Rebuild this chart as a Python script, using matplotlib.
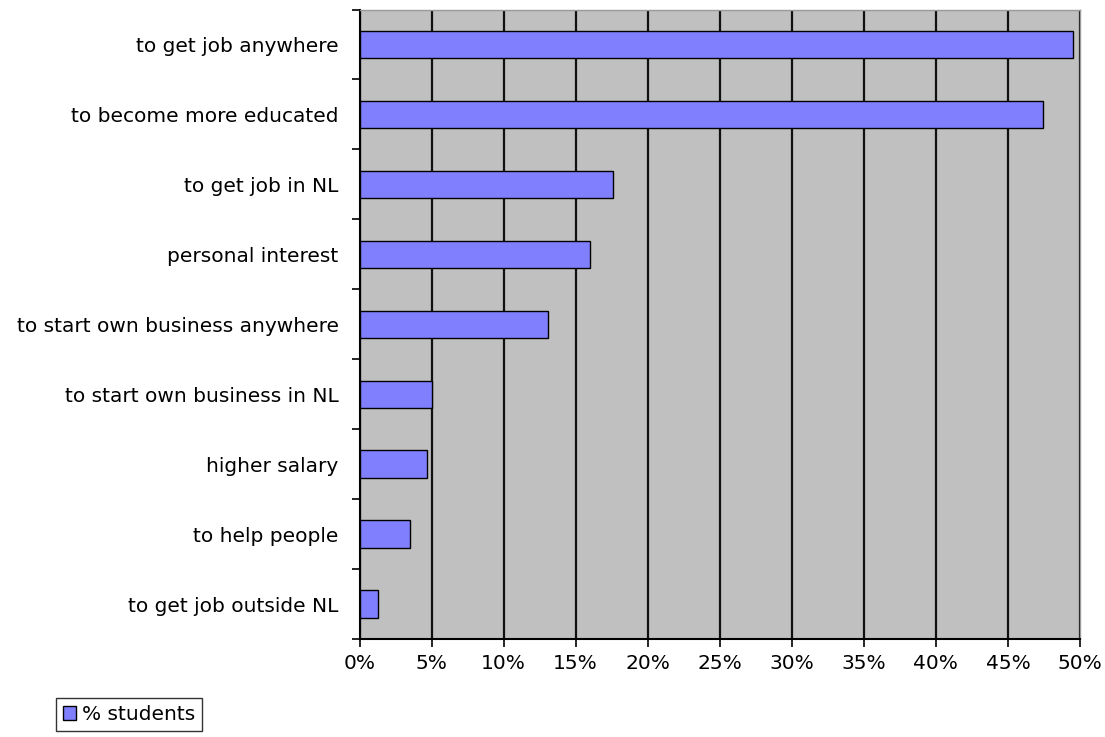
import matplotlib
matplotlib.use("Agg")
import matplotlib.pyplot as plt
from matplotlib.ticker import FixedLocator

categories = ["to get job anywhere", "to become more educated", "to get job in NL",
              "personal interest", "to start own business anywhere",
              "to start own business in NL", "higher salary", "to help people",
              "to get job outside NL"]
values = [49.5, 47.4, 17.6, 16.0, 13.1, 5.0, 4.7, 3.5, 1.3]
xticks = [0, 5, 10, 15, 20, 25, 30, 35, 40, 45, 50]
xticklabels = [f"{t}%" for t in xticks]
series_name = "% students"

plt.rcParams['font.family'] = ['DejaVu Sans']
FS = 14.5

fig = plt.figure(figsize=(11.05, 7.37), dpi=100)
ax = fig.add_axes([359.5/1105, 1-639/737, (1080-359.5)/1105, (639-9.5)/737])
ax.set_facecolor('#C0C0C0')

n = len(categories)
ypos = list(range(n))
bars = ax.barh(ypos, values, height=0.39, color='#8080FF', edgecolor='black',
               linewidth=1.0, zorder=3, label=series_name)
ax.set_ylim(n - 0.5, -0.5)
ax.set_xlim(0, 50)

ax.set_xticks(xticks)
ax.set_xticklabels(xticklabels, fontsize=FS)
ax.xaxis.grid(True, color='#111111', linewidth=1.6, zorder=1)
ax.set_axisbelow(True)

ax.set_yticks(ypos)
ax.set_yticklabels(categories, fontsize=FS)
ax.tick_params(axis='y', length=0, pad=15)
ax.yaxis.set_minor_locator(FixedLocator([i - 0.5 for i in range(n + 1)]))
ax.tick_params(axis='y', which='minor', length=6, width=1.2, color='black')
ax.tick_params(axis='x', length=6, width=1.2, color='black', pad=5)

for s in ['left', 'bottom']:
    ax.spines[s].set_color('black')
    ax.spines[s].set_linewidth(1.5)
for s in ['top', 'right']:
    ax.spines[s].set_color('#999999')
    ax.spines[s].set_linewidth(1.0)

leg = fig.legend(handles=[bars], labels=[series_name], loc='upper left',
                 bbox_to_anchor=(56/1105, 1-698/737), fontsize=FS, frameon=True,
                 fancybox=False, edgecolor='black', handlelength=0.65,
                 handleheight=0.65, handletextpad=0.3, borderpad=0.35, borderaxespad=0)
leg.get_frame().set_linewidth(1.0)

fig.savefig("out.png", dpi=100)
